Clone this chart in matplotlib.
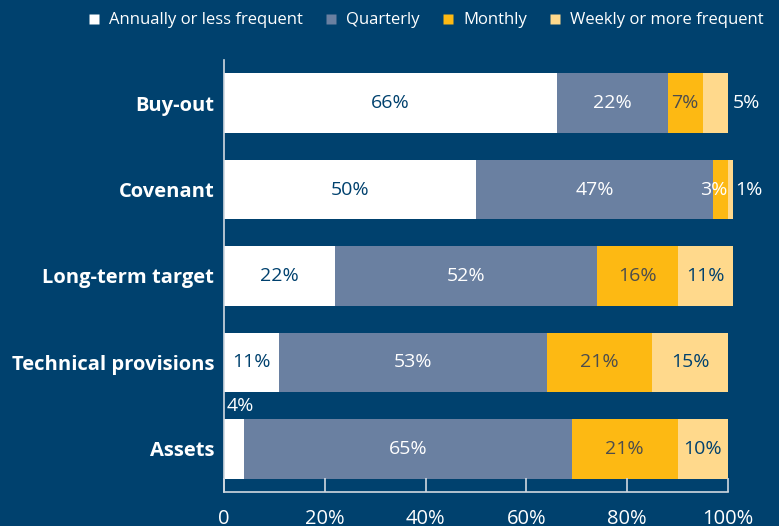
import matplotlib
matplotlib.use("Agg")
import matplotlib.pyplot as plt
from matplotlib.lines import Line2D

categories = ["Buy-out", "Covenant", "Long-term target", "Technical provisions", "Assets"]
series_names = ["Annually or less frequent", "Quarterly", "Monthly", "Weekly or more frequent"]
annually = [66, 50, 22, 11, 4]
quarterly = [22, 47, 52, 53, 65]
monthly = [7, 3, 16, 21, 21]
weekly = [5, 1, 11, 15, 10]
xticks = [0, 20, 40, 60, 80, 100]
xticklabels = ["0", "20%", "40%", "60%", "80%", "100%"]

BG = "#00416E"
colors = ["#FFFFFF", "#6A80A1", "#FDB913", "#FFD98C"]
text_colors = [BG, "#FFFFFF", "#4D4D4D", BG]
FONT = "Open Sans"

fig = plt.figure(figsize=(7.79, 5.26), dpi=100, facecolor=BG)
ax = fig.add_axes([224/779, 1-492/526, (728-224)/779, (492-60)/526])
ax.set_facecolor(BG)

series = [annually, quarterly, monthly, weekly]
ypos = list(range(len(categories)))
left = [0]*len(categories)
fs = 14
for si, vals in enumerate(series):
    ax.barh(ypos, vals, left=left, height=0.69, color=colors[si], edgecolor="none",
            label=series_names[si], clip_on=False)
    for i, v in enumerate(vals):
        x0 = left[i]
        if v >= 6:
            ax.text(x0 + v/2, i, f"{v}%", ha="center", va="center", color=text_colors[si],
                    fontsize=fs, family=FONT)
    left = [l + v for l, v in zip(left, vals)]

# small-value labels placed manually
ax.text(left[0] + 1.0, 0, f"{weekly[0]}%", ha="left", va="center", color="white", fontsize=fs, family=FONT)
ax.text(annually[1] + quarterly[1] + monthly[1] - 0.2, 1, f"{monthly[1]}%", ha="right", va="center",
        color="white", fontsize=fs, family=FONT)
ax.text(left[1] + 0.4, 1, f"{weekly[1]}%", ha="left", va="center", color="white", fontsize=fs, family=FONT)
ax.text(0.6, 3.5, f"{annually[4]}%", ha="left", va="center", color="white", fontsize=fs, family=FONT)

ax.set_xlim(0, 100)
ax.set_ylim(4.5, -0.5)
ax.set_yticks(ypos)
ax.set_yticklabels(categories, color="white", fontsize=14.5, fontweight="bold", family=FONT)
ax.tick_params(axis="y", length=0, pad=7)
ax.set_xticks(xticks)
ax.set_xticklabels(xticklabels, color="white", fontsize=14.5, family=FONT)
ax.tick_params(axis="x", direction="in", length=10, width=1.2, color="#D0D8E0", pad=12)

for s in ["top", "right"]:
    ax.spines[s].set_visible(False)
for s in ["left", "bottom"]:
    ax.spines[s].set_color("#D0D8E0")
    ax.spines[s].set_linewidth(1.2)

handles = [Line2D([0], [0], marker="s", linestyle="none", markersize=7, markerfacecolor=c,
                  markeredgecolor="none") for c in colors]
leg = fig.legend(handles, series_names, loc="upper right", bbox_to_anchor=(1.0, 1.005), ncol=4,
                 frameon=False, handletextpad=0.4, columnspacing=1.2, handlelength=1.0,
                 prop={"family": FONT, "size": 12})
for t in leg.get_texts():
    t.set_color("white")

fig.savefig("out.png", dpi=100, facecolor=BG)
